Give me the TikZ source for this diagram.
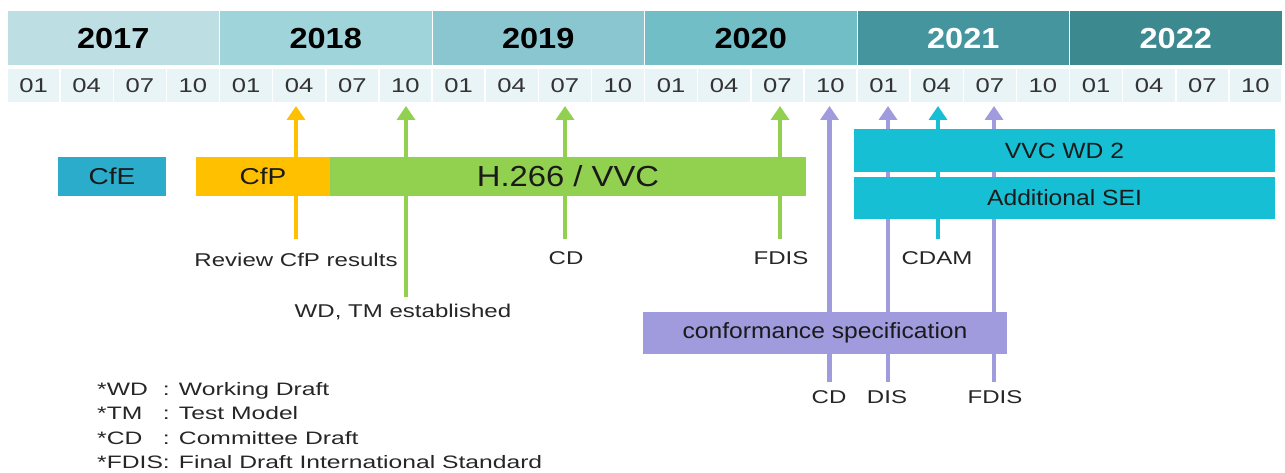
\documentclass[tikz,border=0pt]{standalone}
\usepackage{fontspec}
\setmainfont{Liberation Sans}
\newfontfamily\lblfont[FakeStretch=1.3]{Liberation Sans}
\newfontfamily\lgdfont[FakeStretch=1.37]{Liberation Sans}
\newfontfamily\yrfont[FakeStretch=1.12]{Liberation Sans}
\newfontfamily\mofont[FakeStretch=1.28]{Liberation Sans}
\newfontfamily\bxfont[FakeStretch=1.22]{Liberation Sans}
\newfontfamily\bxfontb[FakeStretch=1.12]{Liberation Sans}
\newfontfamily\bigfont[FakeStretch=1.13]{Liberation Sans}
\usetikzlibrary{arrows.meta}
\definecolor{y17}{HTML}{BDDEE3}
\definecolor{y18}{HTML}{9FD4DA}
\definecolor{y19}{HTML}{8AC6CF}
\definecolor{y20}{HTML}{71BEC6}
\definecolor{y21}{HTML}{45959E}
\definecolor{y22}{HTML}{3D8990}
\definecolor{monthbg}{HTML}{E9F4F6}
\definecolor{monthtxt}{HTML}{333333}
\definecolor{cfe}{HTML}{2BACCB}
\definecolor{cfp}{HTML}{FFC000}
\definecolor{vvc}{HTML}{92D050}
\definecolor{cyanbox}{HTML}{16BFD3}
\definecolor{purp}{HTML}{9F9BDC}
\definecolor{lbltxt}{HTML}{262626}
\definecolor{boxtxt}{HTML}{1A1A1A}
\tikzset{
  yearcell/.style={inner sep=0pt, minimum width=212.5pt, minimum height=55pt, draw=white, line width=1pt,
    font={\yrfont\bfseries\fontsize{29}{34}\selectfont}},
  monthcell/.style={inner sep=0pt, minimum width=53.125pt, minimum height=34pt, fill=monthbg, draw=white,
    line width=1.5pt, text=monthtxt, font={\mofont\fontsize{20}{24}\selectfont}},
  ms/.style={line width=4.5pt, -{Triangle[width=18pt,length=14pt]}},
  bar/.style={inner sep=0pt, text=boxtxt},
  lbl/.style={anchor=base, inner sep=0pt, text=lbltxt, font={\lblfont\fontsize{18.5}{22}\selectfont}},
  lgd/.style={anchor=base west, inner sep=0pt, text=lbltxt, font={\lgdfont\fontsize{18}{22}\selectfont}}
}
\begin{document}
\begin{tikzpicture}[x=1pt,y=-1pt]
\useasboundingbox (0,0) rectangle (1285,473);
% year row
\foreach \yr/\col/\tc [count=\i from 0] in {2017/y17/black,2018/y18/black,2019/y19/black,2020/y20/black,2021/y21/white,2022/y22/white}{
  \node[yearcell, fill=\col, text=\tc] (y\yr) at ({7+212.5*\i+106.25},38.5) {\yr};
}
% month row
\foreach \yi in {0,...,5}{
  \foreach \q/\m in {0/01,1/04,2/07,3/10}{
    \node[monthcell] (m\yi\q) at ({7+212.5*\yi+53.125*\q+26.5625},85.5) {\m};
  }
}
% milestone coordinates
\coordinate (a1b) at (296,239);   \coordinate (a1t) at (296,106);
\coordinate (a2b) at (406,297);   \coordinate (a2t) at (406,106);
\coordinate (a3b) at (565,239);   \coordinate (a3t) at (565,106);
\coordinate (a4b) at (780,239);   \coordinate (a4t) at (780,106);
\coordinate (a5b) at (829.5,382); \coordinate (a5t) at (829.5,106);
\coordinate (a6b) at (888,382);   \coordinate (a6t) at (888,106);
\coordinate (a7b) at (938,239);   \coordinate (a7t) at (938,106);
\coordinate (a8b) at (994,382);   \coordinate (a8t) at (994,106);
% milestone arrows
\draw[ms, cfp] (a1b) -- (a1t);
\draw[ms, vvc] (a2b) -- (a2t);
\draw[ms, vvc] (a3b) -- (a3t);
\draw[ms, vvc] (a4b) -- (a4t);
\draw[ms, purp] (a5b) -- (a5t);
\draw[ms, purp] (a6b) -- (a6t);
\draw[ms, cyanbox] (a7b) -- (a7t);
\draw[ms, purp] (a8b) -- (a8t);
% bars
\node[bar, fill=cfe, minimum width=108pt, minimum height=39pt, font={\bxfont\fontsize{23}{27}\selectfont}] (cfe) at (112,176.5) {CfE};
\node[bar, fill=cfp, minimum width=134pt, minimum height=39pt, font={\bxfont\fontsize{23}{27}\selectfont}] (cfp) at (263,176.5) {CfP};
\node[bar, fill=vvc, minimum width=476pt, minimum height=39pt, font={\bigfont\fontsize{29}{34}\selectfont}] (h266) at (568,176.5) {H.266 / VVC};
\node[bar, fill=cyanbox, minimum width=421pt, minimum height=43pt, font={\bxfontb\fontsize{22}{26}\selectfont}] (wd2) at (1064.5,150.5) {VVC WD 2};
\node[bar, fill=cyanbox, minimum width=421pt, minimum height=42pt, font={\bxfontb\fontsize{22}{26}\selectfont}] (sei) at (1064.5,198) {Additional SEI};
\node[bar, fill=purp, minimum width=364pt, minimum height=42pt, font={\bxfontb\fontsize{22}{26}\selectfont}] (conf) at (825,333) {conformance specification};
% milestone labels
\node[lbl] (l1) at (296,266) {Review CfP results};
\node[lbl] (l2) at (403,317) {WD, TM established};
\node[lbl] (l3) at (566,265) {CD};
\node[lbl] (l4) at (781,265) {FDIS};
\node[lbl] (l7) at (937,265) {CDAM};
\node[lbl] (l5) at (829,403) {CD};
\node[lbl] (l6) at (887,403) {DIS};
\node[lbl] (l8) at (995,403) {FDIS};
% legend
\node[lgd] (g1) at (97,395) {\makebox[65.8pt][l]{*WD}: Working Draft};
\node[lgd] (g2) at (97,419.5) {\makebox[65.8pt][l]{*TM}: Test Model};
\node[lgd] (g3) at (97,444) {\makebox[65.8pt][l]{*CD}: Committee Draft};
\node[lgd] (g4) at (97,468) {\makebox[65.8pt][l]{*FDIS}: Final Draft International Standard};
\end{tikzpicture}
\end{document}
